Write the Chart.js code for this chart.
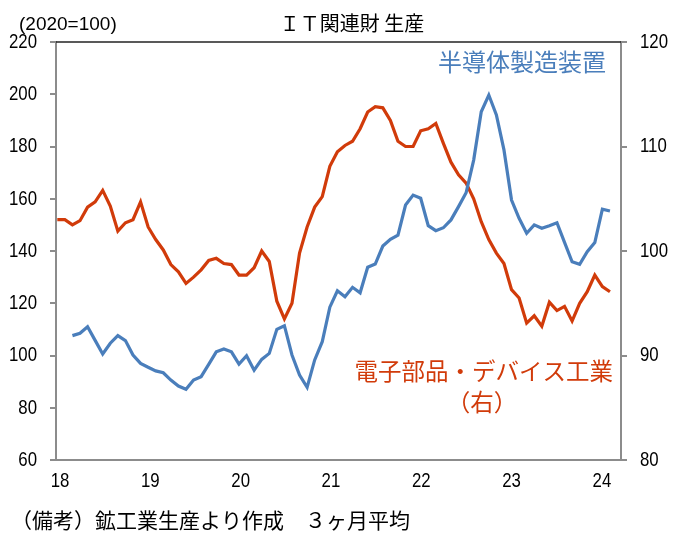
<!DOCTYPE html>
<html><head><meta charset="utf-8">
<script src="https://cdn.jsdelivr.net/npm/chart.js@4.4.1/dist/chart.umd.min.js"></script>
<style>html,body{margin:0;padding:0;background:#fff;}#wrap{width:678px;height:533px;position:relative;}</style>
</head><body><div id="wrap"><canvas id="c" width="678" height="533"></canvas></div>
<script>
// ---- data ----
const startYear = 2018;
const months = [];
for (let i = 0; i < 74; i++) { months.push((startYear + Math.floor(i / 12)) + '-' + String(i % 12 + 1).padStart(2, '0')); }

// 電子部品・デバイス工業 (right axis)
const electronics = [
  103.0,103.0,102.5,102.9,104.2,104.7,105.8,104.3,101.9,102.7,103.0,104.7,
  102.3,101.1,100.1,98.7,98.0,96.9,97.5,98.2,99.1,99.3,98.8,98.7,
  97.7,97.7,98.4,100.0,99.0,95.2,93.5,95.0,99.8,102.3,104.2,105.2,
  108.1,109.5,110.1,110.5,111.7,113.3,113.8,113.7,112.5,110.5,110.0,110.0,
  111.5,111.7,112.2,110.3,108.5,107.3,106.5,105.0,102.8,101.1,99.8,98.8,
  96.3,95.5,93.1,93.8,92.8,95.1,94.3,94.7,93.3,95.0,96.1,97.7,
  96.6,96.1
];
// 半導体製造装置 (left axis)
const semiEquip = [
  null,null,107.6,108.5,111.0,105.8,100.6,104.7,107.6,105.7,100.2,97.0,
  95.5,94.1,93.4,90.6,88.3,87.1,90.6,91.9,96.6,101.4,102.5,101.4,
  96.7,99.9,94.4,98.5,100.8,110.0,111.4,100.2,92.5,87.8,98.3,105.3,
  118.5,124.8,122.5,126.1,124.0,133.8,135.0,141.9,144.5,146.1,157.6,161.4,
  160.2,149.7,147.8,148.9,151.9,157.0,162.3,174.8,193.3,199.7,192.1,178.7,
  159.5,152.5,146.8,150.0,148.7,149.7,150.8,143.3,135.9,134.9,139.7,143.2,
  156.0,155.3
];
const xTickLabels = ['18','19','20','21','22','23','24'];
const leftTicks = [60,80,100,120,140,160,180,200,220];
const rightTicks = [80,90,100,110,120];

// ---- styles ----
const BLUE = '#4A7EBB';
const RED = '#D13B0A';
const NUMFONT = "'Liberation Sans',Arial,sans-serif";
const JPFONT = "'Noto Sans CJK JP','Noto Sans',sans-serif";
const NARROW = 0.8;

const toPts = arr => arr.map((v, i) => ({x: i, y: v}));
const tickPositions = xTickLabels.map((_, k) => 0.36 + k * 11.93);

function narrowText(ctx, txt, x, y, align) {
  ctx.save();
  ctx.translate(x, y);
  ctx.scale(NARROW, 1);
  ctx.textAlign = align;
  ctx.fillText(txt, 0, 0);
  ctx.restore();
}

const textPlugin = {
  id: 'texts',
  afterDraw(chart) {
    const ctx = chart.ctx, a = chart.chartArea;
    const sx = chart.scales.x, sy = chart.scales.y, sy1 = chart.scales.y1;
    ctx.save();
    ctx.strokeStyle = '#222'; ctx.lineWidth = 1.5;
    ctx.beginPath(); ctx.moveTo(a.left, a.top); ctx.lineTo(a.right, a.top); ctx.stroke();
    ctx.textBaseline = 'middle';
    ctx.fillStyle = '#000';
    // tick labels (positions from the chart scales)
    ctx.font = '21px ' + NUMFONT;
    leftTicks.forEach(v => narrowText(ctx, String(v), 37, sy.getPixelForValue(v), 'right'));
    rightTicks.forEach(v => narrowText(ctx, String(v), 640, sy1.getPixelForValue(v), 'left'));
    sx.ticks.forEach((t, i) => narrowText(ctx, xTickLabels[i], sx.getPixelForValue(t.value), 481, 'center'));
    // titles and notes
    ctx.font = '20px ' + JPFONT; ctx.textAlign = 'center';
    ctx.fillText('ＩＴ関連財 生産', 352, 23);
    ctx.font = '19px ' + NUMFONT; ctx.textAlign = 'left';
    ctx.fillText('(2020=100)', 19, 25);
    ctx.font = '21px ' + JPFONT; ctx.textAlign = 'left';
    ctx.fillText('（備考）鉱工業生産より作成　３ヶ月平均', 11, 520);
    ctx.font = '24px ' + JPFONT; ctx.textAlign = 'right';
    ctx.fillStyle = BLUE;
    ctx.fillText('半導体製造装置', 606, 62);
    ctx.font = '23.5px ' + JPFONT;
    ctx.fillStyle = RED;
    ctx.fillText('電子部品・デバイス工業', 613, 371);
    ctx.textAlign = 'center';
    ctx.fillText('（右）', 482, 402);
    ctx.restore();
  }
};

new Chart(document.getElementById('c'), {
  type: 'line',
  data: {
    datasets: [
      { label: '半導体製造装置', data: toPts(semiEquip), yAxisID: 'y', borderColor: BLUE, borderWidth: 3.2, pointRadius: 0, tension: 0, fill: false, spanGaps: false },
      { label: '電子部品・デバイス工業', data: toPts(electronics), yAxisID: 'y1', borderColor: RED, borderWidth: 3.2, pointRadius: 0, tension: 0, fill: false }
    ]
  },
  options: {
    responsive: false,
    animation: false,
    devicePixelRatio: 1,
    layout: { padding: { top: 42, left: 0, right: 0, bottom: 0 } },
    plugins: { legend: { display: false }, tooltip: { enabled: false }, title: { display: false } },
    scales: {
      x: {
        type: 'linear', min: -0.17, max: 74.46,
        afterBuildTicks: s => { s.ticks = tickPositions.map(v => ({value: v})); },
        afterFit: s => { s.height = 73; },
        ticks: { display: false, autoSkip: false },
        grid: { display: true, drawOnChartArea: false, drawTicks: false },
        border: { display: true, color: '#8c8c8c', width: 2 }
      },
      y: {
        position: 'left', min: 60, max: 220,
        afterBuildTicks: s => { s.ticks = leftTicks.map(v => ({value: v})); },
        afterFit: s => { s.width = 56; },
        ticks: { display: false },
        grid: { drawOnChartArea: false, drawTicks: true, tickLength: 6, color: '#8c8c8c', lineWidth: 2 },
        border: { display: true, color: '#8c8c8c', width: 2 }
      },
      y1: {
        position: 'right', min: 80, max: 120,
        afterBuildTicks: s => { s.ticks = rightTicks.map(v => ({value: v})); },
        afterFit: s => { s.width = 57; },
        ticks: { display: false },
        grid: { drawOnChartArea: false, drawTicks: true, tickLength: 6, color: '#8c8c8c', lineWidth: 2 },
        border: { display: true, color: '#8c8c8c', width: 2 }
      }
    }
  },
  plugins: [textPlugin]
});
</script></body></html>
